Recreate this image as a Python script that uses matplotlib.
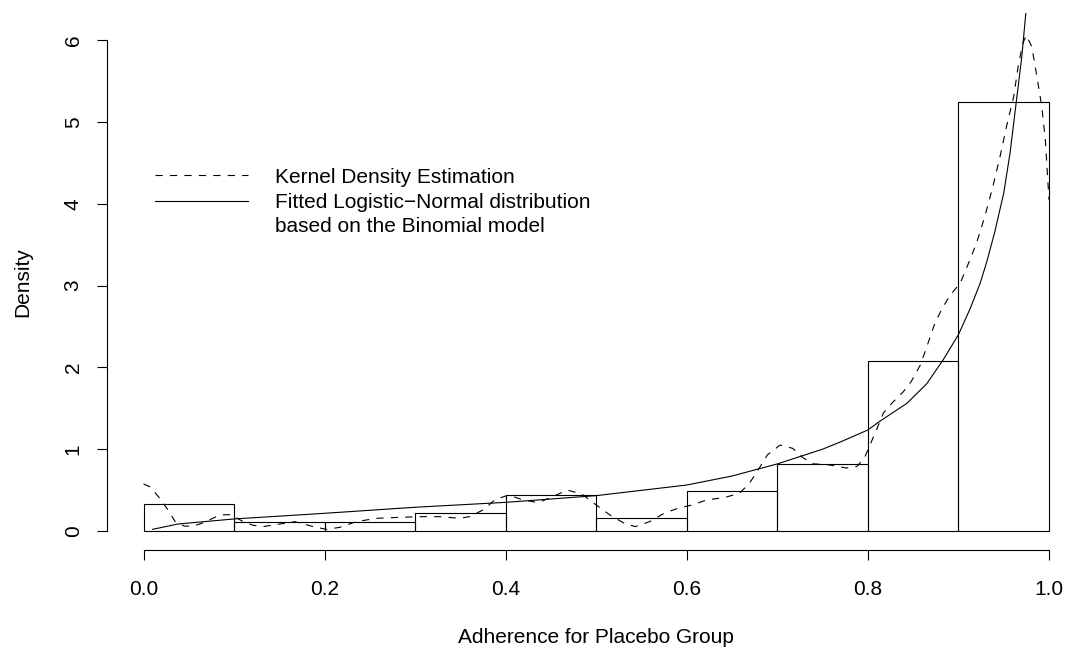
import matplotlib
matplotlib.use("Agg")
import matplotlib.pyplot as plt
from matplotlib.lines import Line2D

plt.rcParams["font.family"] = ["Liberation Sans", "DejaVu Sans"]

# histogram (density scale), bins of width 0.1
bin_left = [0.0, 0.1, 0.2, 0.3, 0.4, 0.5, 0.6, 0.7, 0.8, 0.9]
hist_density = [0.328, 0.109, 0.109, 0.219, 0.437, 0.164, 0.492, 0.820, 2.077, 5.246]

# kernel density estimate (dashed)
kde_x = [0.000, 0.007, 0.018, 0.027, 0.035, 0.045, 0.055, 0.066, 0.0845, 0.097,
         0.110, 0.121, 0.132, 0.151, 0.167, 0.1875, 0.202, 0.217, 0.235, 0.2575,
         0.283, 0.305, 0.327, 0.349, 0.360, 0.375, 0.388, 0.403, 0.419, 0.436,
         0.452, 0.468, 0.484, 0.500, 0.515, 0.531, 0.543, 0.559, 0.575, 0.590,
         0.606, 0.622, 0.642, 0.658, 0.669, 0.681, 0.689, 0.703, 0.717, 0.729,
         0.740, 0.756, 0.776, 0.788, 0.796, 0.8015, 0.810, 0.817, 0.828, 0.839,
         0.848, 0.858, 0.865, 0.874, 0.882, 0.891, 0.902, 0.911, 0.920, 0.929,
         0.938, 0.946, 0.953, 0.961, 0.966, 0.971, 0.975, 0.981, 0.986, 0.992,
         0.996, 1.000]
kde_y = [0.575, 0.54, 0.40, 0.257, 0.114, 0.06, 0.06, 0.10, 0.196, 0.20,
         0.114, 0.07, 0.053, 0.086, 0.114, 0.053, 0.02, 0.045, 0.114, 0.155,
         0.167, 0.175, 0.175, 0.155, 0.175, 0.257, 0.38, 0.44, 0.38, 0.346,
         0.42, 0.50, 0.452, 0.318, 0.196, 0.094, 0.053, 0.114, 0.216, 0.277,
         0.318, 0.379, 0.41, 0.46, 0.58, 0.786, 0.93, 1.05, 1.01, 0.89,
         0.82, 0.81, 0.77, 0.79, 0.89, 1.03, 1.25, 1.44, 1.58, 1.70,
         1.83, 2.03, 2.25, 2.54, 2.72, 2.885, 3.03, 3.27, 3.52, 3.84,
         4.21, 4.58, 4.94, 5.31, 5.68, 5.96, 6.06, 5.92, 5.60, 5.19,
         4.78, 4.05]

# fitted logistic-normal density (solid)
fit_x = [0.010, 0.038, 0.100, 0.200, 0.300, 0.400, 0.500, 0.600, 0.650, 0.700,
         0.750, 0.770, 0.800, 0.813, 0.843, 0.865, 0.883, 0.900, 0.913, 0.924,
         0.931, 0.940, 0.950, 0.957, 0.9636, 0.970, 0.975]
fit_y = [0.02, 0.085, 0.147, 0.216, 0.29, 0.35, 0.432, 0.562, 0.672, 0.82,
         1.00, 1.09, 1.235, 1.34, 1.56, 1.80, 2.09, 2.40, 2.72, 3.03,
         3.28, 3.65, 4.13, 4.62, 5.22, 5.80, 6.40]

x_ticks = [0.0, 0.2, 0.4, 0.6, 0.8, 1.0]
y_ticks = [0, 1, 2, 3, 4, 5, 6]

W, H = 1072, 662
FS = 15
LW = 0.8

fig = plt.figure(figsize=(W / 100, H / 100), dpi=100)
ax = fig.add_axes([107.3 / W, (H - 550.2) / H, 977.9 / W, 537 / H])

ax.bar(bin_left, hist_density, width=0.1, align="edge", fill=False,
       edgecolor="black", linewidth=LW)
ax.plot(kde_x, kde_y, color="black", linewidth=LW, linestyle=(0, (6.5, 6.5)))
ax.plot(fit_x, fit_y, color="black", linewidth=LW)

ax.set_xlim(-0.04, 1.04)
ax.set_ylim(-0.235, 6.33)

for s in ["top", "right"]:
    ax.spines[s].set_visible(False)
ax.spines["left"].set_bounds(0, 6)
ax.spines["bottom"].set_bounds(0, 1)
ax.spines["left"].set_linewidth(LW)
ax.spines["bottom"].set_linewidth(LW)

ax.set_xticks(x_ticks, [f"{v:.1f}" for v in x_ticks])
ax.set_yticks(y_ticks, [str(v) for v in y_ticks])
ax.tick_params(axis="x", direction="out", length=7.2, width=LW, labelsize=FS, pad=14)
ax.tick_params(axis="y", direction="out", length=7.2, width=LW, labelsize=FS, pad=10.5)
for lab in ax.get_yticklabels():
    lab.set_rotation(90)
    lab.set_va("center")

fig.text(596 / W, (H - 643.3) / H, "Adherence for Placebo Group",
         ha="center", va="baseline", fontsize=FS)
fig.text(22.5 / W, (H - 282) / H, "Density", rotation=90,
         ha="center", va="center", fontsize=FS)

# legend drawn the way R places it
fig.add_artist(Line2D([155 / W, 248 / W], [(H - 175) / H] * 2, color="black",
                      linewidth=LW, linestyle=(0, (6.5, 6.5))))
fig.add_artist(Line2D([155 / W, 248 / W], [(H - 200.7) / H] * 2, color="black",
                      linewidth=LW))
legend_text = ["Kernel Density Estimation",
               "Fitted Logistic\u2212Normal distribution",
               "based on the Binomial model"]
for i, t in enumerate(legend_text):
    fig.text(275 / W, (H - 183.3 - 24.5 * i) / H, t, ha="left", va="baseline",
             fontsize=FS)

fig.savefig("out.png", dpi=100)
